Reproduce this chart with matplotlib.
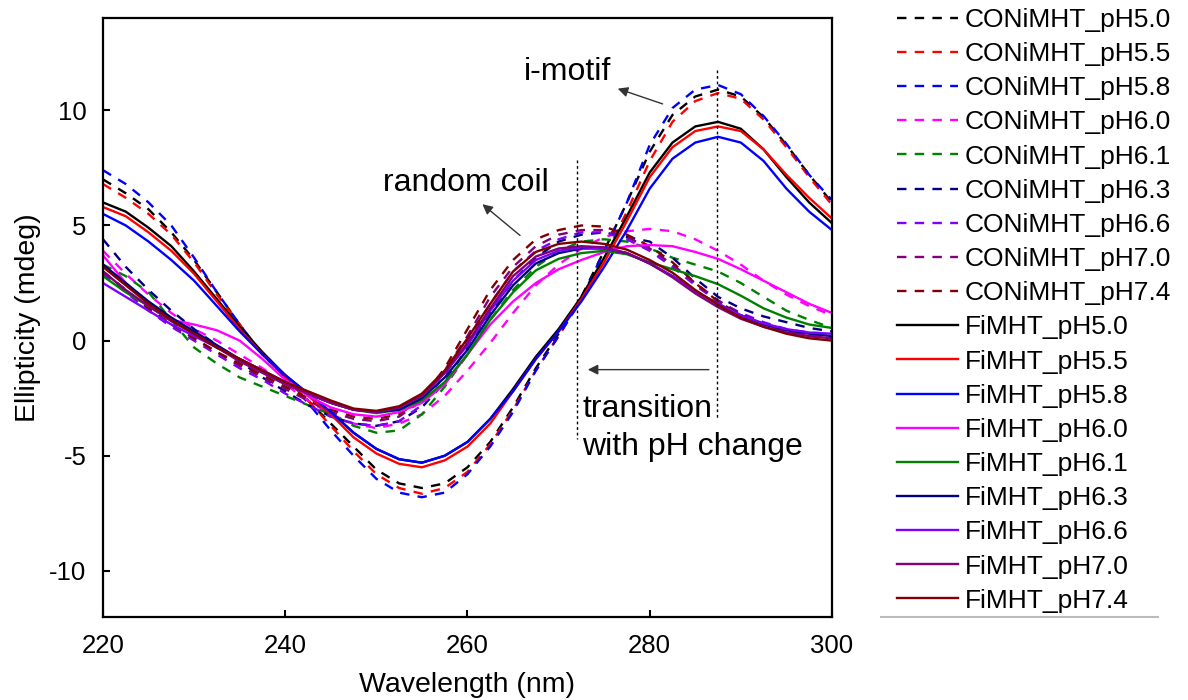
import matplotlib.pyplot as plt
from matplotlib.lines import Line2D

plt.rcParams["font.family"] = ["Liberation Sans", "DejaVu Sans"]
plt.rcParams["axes.unicode_minus"] = False

wavelength = [220, 222.5, 225, 227.5, 230, 232.5, 235, 237.5, 240, 242.5, 245,
              247.5, 250, 252.5, 255, 257.5, 260, 262.5, 265, 267.5, 270,
              272.5, 275, 277.5, 280, 282.5, 285, 287.5, 290, 292.5, 295, 297.5, 300]

ph_labels = ["pH5.0", "pH5.5", "pH5.8", "pH6.0", "pH6.1", "pH6.3", "pH6.6", "pH7.0", "pH7.4"]
colors = ["#000000", "#ff0000", "#0000ff", "#ff00ff", "#008000",
          "#000080", "#8000ff", "#800080", "#800000"]

# CONiMHT (dashed)
con_50 = [7.0, 6.4, 5.7, 4.7, 3.5, 2.1, 0.7, -0.6, -1.6, -2.6, -3.6, -4.6, -5.6, -6.2, -6.4, -6.2, -5.5,
          -4.4, -2.9, -1.2, 0.3, 1.9, 3.9, 6.0, 8.2, 9.8, 10.6, 10.9, 10.6, 9.7, 8.5, 7.2, 6.0]
con_55 = [6.8, 6.2, 5.5, 4.6, 3.4, 2.0, 0.7, -0.6, -1.6, -2.6, -3.7, -4.8, -5.8, -6.4, -6.65, -6.4, -5.7,
          -4.5, -3.0, -1.3, 0.2, 1.8, 3.6, 5.6, 7.8, 9.5, 10.4, 10.75, 10.5, 9.6, 8.4, 7.1, 5.9]
con_58 = [7.4, 6.8, 6.0, 5.0, 3.6, 2.1, 0.7, -0.6, -1.6, -2.7, -3.9, -5.0, -6.0, -6.6, -6.8, -6.6, -5.8,
          -4.6, -3.1, -1.3, 0.2, 1.8, 3.9, 6.0, 8.5, 10.1, 10.9, 11.1, 10.7, 9.75, 8.55, 7.2, 6.1]
con_60 = [3.9, 2.9, 2.0, 1.2, 0.5, 0.0, -0.6, -1.2, -1.9, -2.6, -3.2, -3.6, -3.8, -3.6, -3.2, -2.4, -1.3,
          -0.1, 1.2, 2.4, 3.3, 4.0, 4.5, 4.75, 4.85, 4.75, 4.4, 3.9, 3.3, 2.6, 2.0, 1.5, 1.1]
con_61 = [3.3, 2.8, 2.1, 0.9, -0.3, -1.0, -1.6, -2.0, -2.4, -2.8, -3.2, -3.7, -4.0, -3.9, -3.2, -2.0, -0.6,
          0.9, 2.2, 3.2, 3.9, 4.3, 4.4, 4.3, 4.0, 3.6, 3.3, 3.0, 2.5, 1.9, 1.3, 0.9, 0.55]
con_63 = [4.4, 3.2, 2.2, 1.3, 0.5, -0.2, -0.9, -1.6, -2.2, -2.8, -3.3, -3.6, -3.7, -3.5, -2.9, -1.8, -0.3,
          1.2, 2.6, 3.6, 4.3, 4.6, 4.7, 4.5, 4.3, 3.6, 2.7, 1.9, 1.4, 1.05, 0.8, 0.55, 0.4]
con_66 = [2.9, 2.1, 1.3, 0.6, 0.0, -0.6, -1.2, -1.7, -2.3, -2.8, -3.3, -3.6, -3.7, -3.5, -2.8, -1.5, 0.0,
          1.6, 3.0, 3.9, 4.4, 4.7, 4.7, 4.4, 3.9, 3.2, 2.4, 1.7, 1.2, 0.8, 0.5, 0.35, 0.3]
con_70 = [3.0, 2.2, 1.4, 0.7, 0.1, -0.5, -1.1, -1.6, -2.1, -2.6, -3.1, -3.4, -3.5, -3.3, -2.6, -1.3, 0.2,
          1.9, 3.2, 4.1, 4.6, 4.8, 4.8, 4.5, 4.0, 3.3, 2.5, 1.75, 1.15, 0.75, 0.45, 0.3, 0.2]
con_74 = [3.0, 2.2, 1.4, 0.7, 0.1, -0.5, -1.0, -1.5, -2.0, -2.5, -3.0, -3.3, -3.4, -3.2, -2.5, -1.2, 0.5,
          2.2, 3.5, 4.4, 4.8, 5.0, 4.95, 4.6, 4.1, 3.4, 2.5, 1.7, 1.1, 0.7, 0.4, 0.2, 0.1]

# FiMHT (solid)
fi_50 = [6.0, 5.6, 4.9, 4.1, 3.0, 1.8, 0.6, -0.5, -1.5, -2.3, -3.1, -4.0, -4.7, -5.15, -5.3, -5.0, -4.4,
         -3.4, -2.1, -0.7, 0.5, 1.9, 3.6, 5.4, 7.3, 8.6, 9.3, 9.5, 9.2, 8.3, 7.1, 6.0, 5.1]
fi_55 = [5.8, 5.4, 4.7, 3.9, 2.9, 1.7, 0.5, -0.6, -1.5, -2.4, -3.2, -4.2, -4.9, -5.35, -5.5, -5.2, -4.6,
         -3.6, -2.2, -0.8, 0.4, 1.8, 3.4, 5.2, 7.1, 8.4, 9.1, 9.3, 9.1, 8.3, 7.2, 6.2, 5.3]
fi_58 = [5.5, 5.0, 4.3, 3.5, 2.6, 1.5, 0.4, -0.6, -1.5, -2.3, -3.1, -4.0, -4.7, -5.15, -5.3, -5.0, -4.4,
         -3.4, -2.2, -0.8, 0.4, 1.7, 3.2, 4.8, 6.6, 7.9, 8.6, 8.85, 8.6, 7.8, 6.6, 5.6, 4.8]
fi_60 = [3.7, 2.5, 1.6, 0.9, 0.7, 0.45, 0.0, -0.8, -1.7, -2.4, -2.9, -3.2, -3.3, -3.1, -2.7, -1.9, -0.6,
         0.7, 1.7, 2.5, 3.1, 3.5, 3.85, 4.1, 4.15, 4.1, 3.85, 3.55, 3.1, 2.6, 2.1, 1.6, 1.2]
fi_61 = [2.8, 2.1, 1.5, 0.85, 0.3, -0.3, -0.8, -1.3, -1.8, -2.3, -2.7, -3.0, -3.15, -3.0, -2.6, -1.8, -0.6,
         0.9, 2.1, 3.05, 3.55, 3.8, 3.9, 3.75, 3.4, 3.1, 2.8, 2.45, 1.95, 1.4, 1.0, 0.7, 0.55]
fi_63 = [3.3, 2.5, 1.7, 1.0, 0.4, -0.2, -0.8, -1.3, -1.8, -2.3, -2.7, -3.0, -3.1, -3.0, -2.5, -1.6, -0.4,
         1.1, 2.4, 3.35, 3.8, 4.0, 4.0, 3.8, 3.35, 2.8, 2.15, 1.6, 1.1, 0.7, 0.45, 0.3, 0.2]
fi_66 = [2.5, 1.9, 1.3, 0.7, 0.2, -0.3, -0.8, -1.3, -1.8, -2.3, -2.7, -3.0, -3.1, -2.9, -2.4, -1.4, -0.2,
         1.3, 2.6, 3.5, 3.9, 4.05, 4.0, 3.8, 3.35, 2.8, 2.15, 1.6, 1.1, 0.75, 0.5, 0.35, 0.3]
fi_70 = [3.0, 2.2, 1.5, 0.85, 0.3, -0.3, -0.9, -1.4, -1.9, -2.3, -2.7, -3.0, -3.1, -2.9, -2.4, -1.4, -0.1,
         1.4, 2.8, 3.65, 4.0, 4.1, 4.05, 3.8, 3.35, 2.75, 2.05, 1.45, 0.95, 0.6, 0.35, 0.2, 0.1]
fi_74 = [3.2, 2.4, 1.6, 0.9, 0.3, -0.3, -0.8, -1.3, -1.8, -2.2, -2.6, -2.95, -3.05, -2.85, -2.3, -1.3, 0.1,
         1.6, 3.0, 3.85, 4.2, 4.3, 4.2, 3.95, 3.5, 2.95, 2.2, 1.55, 1.0, 0.6, 0.3, 0.1, 0.0]

con_series = [con_50, con_55, con_58, con_60, con_61, con_63, con_66, con_70, con_74]
fi_series = [fi_50, fi_55, fi_58, fi_60, fi_61, fi_63, fi_66, fi_70, fi_74]

fig = plt.figure(figsize=(11.88, 7.0), dpi=100)
ax = fig.add_axes([0.0867, 0.1186, 0.6136, 0.8554])

for lab, col, y in zip(ph_labels, colors, con_series):
    ax.plot(wavelength, y, color=col, linestyle=(0, (4, 3.5)), linewidth=1.7,
            label=f"CONiMHT_{lab}")

for lab, col, y in zip(ph_labels, colors, fi_series):
    ax.plot(wavelength, y, color=col, linestyle="-", linewidth=1.7,
            label=f"FiMHT_{lab}")

# guide lines and annotations
ax.plot([272.0, 272.0], [7.84, -4.27], color="black", linestyle=(0, (2, 2)), linewidth=1)
ax.plot([287.4, 287.4], [11.76, -3.4], color="black", linestyle=(0, (2, 2)), linewidth=1)

arrow = dict(arrowstyle="-|>", color="#333333", lw=1, mutation_scale=15)
ax.annotate("", xy=(272.9, -1.26), xytext=(286.8, -1.26), arrowprops=arrow)
ax.annotate("", xy=(276.2, 10.98), xytext=(281.7, 10.24), arrowprops=arrow)
ax.annotate("", xy=(261.4, 6.0), xytext=(266.0, 4.49), arrowprops=arrow)

ax.text(271.0, 11.68, "i-motif", fontsize=23, ha="center", va="center")
ax.text(259.8, 6.84, "random coil", fontsize=23, ha="center", va="center")
ax.text(272.6, -2.96, "transition", fontsize=23, ha="left", va="center")
ax.text(272.6, -4.6, "with pH change", fontsize=23, ha="left", va="center")

ax.set_xlim(220, 300)
ax.set_ylim(-12, 14)
ax.set_xticks([220, 240, 260, 280, 300])
ax.set_yticks([-10, -5, 0, 5, 10])
ax.tick_params(direction="in", labelsize=18.5, length=5, width=1.5)
ax.tick_params(axis="x", pad=12)
ax.tick_params(axis="y", pad=12)
for s in ax.spines.values():
    s.set_linewidth(1.6)

ax.set_xlabel("Wavelength (nm)", fontsize=20.5, labelpad=10)
ax.set_ylabel("Ellipticity (mdeg)", fontsize=20.5, labelpad=6)

leg = ax.legend(loc="upper left", bbox_to_anchor=(1.089, 1.017), frameon=False,
                fontsize=19, handlelength=2.3, handletextpad=0.26,
                labelspacing=0.385, borderaxespad=0, borderpad=0)

fig.add_artist(Line2D([0.742, 0.975], [0.1186, 0.1186], color="#bbbbbb", linewidth=1.5,
                      transform=fig.transFigure))

plt.savefig("out.png", dpi=100)
